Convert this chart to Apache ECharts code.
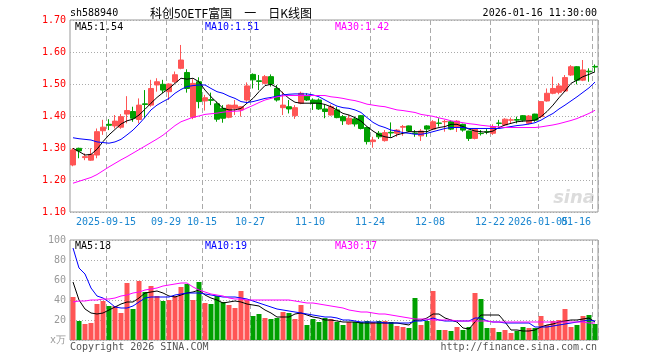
<!DOCTYPE html>
<html><head><meta charset="utf-8">
<script src="https://cdn.jsdelivr.net/npm/echarts@6/dist/echarts.min.js"></script>
<style>html,body{margin:0;padding:0;background:#fff}#c{width:660px;height:360px}</style>
</head><body><div id="c"></div>
<script>
var dates = ['2025-09-05','2025-09-08','2025-09-09','2025-09-10','2025-09-11','2025-09-12','2025-09-15','2025-09-16','2025-09-17','2025-09-18','2025-09-19','2025-09-22','2025-09-23','2025-09-24','2025-09-25','2025-09-26','2025-09-29','2025-09-30',
'2025-10-09','2025-10-10','2025-10-13','2025-10-14','2025-10-15','2025-10-16','2025-10-17','2025-10-20','2025-10-21','2025-10-22','2025-10-23','2025-10-24','2025-10-27','2025-10-28','2025-10-29','2025-10-30','2025-10-31',
'2025-11-03','2025-11-04','2025-11-05','2025-11-06','2025-11-07','2025-11-10','2025-11-11','2025-11-12','2025-11-13','2025-11-14','2025-11-17','2025-11-18','2025-11-19','2025-11-20','2025-11-21','2025-11-24','2025-11-25','2025-11-26','2025-11-27','2025-11-28',
'2025-12-01','2025-12-02','2025-12-03','2025-12-04','2025-12-05','2025-12-08','2025-12-09','2025-12-10','2025-12-11','2025-12-12','2025-12-15','2025-12-16','2025-12-17','2025-12-18','2025-12-19','2025-12-22','2025-12-23','2025-12-24','2025-12-25','2025-12-26','2025-12-29','2025-12-30','2025-12-31',
'2026-01-05','2026-01-06','2026-01-07','2026-01-08','2026-01-09','2026-01-12','2026-01-13','2026-01-14','2026-01-15','2026-01-16'];

var openP  = [1.247,1.299,1.270,1.262,1.278,1.354,1.374,1.369,1.365,1.406,1.414,1.389,1.438,1.434,1.497,1.499,1.476,1.507,1.549,1.536,1.396,1.507,1.447,1.451,1.438,1.424,1.396,1.424,1.419,1.450,
1.530,1.510,1.502,1.523,1.486,1.426,1.429,1.401,1.440,1.462,1.450,1.450,1.422,1.403,1.419,1.398,1.375,1.391,1.401,1.364,1.320,1.346,1.323,1.349,1.346,1.365,1.369,1.347,1.338,1.369,
1.359,1.378,1.382,1.382,1.364,1.374,1.353,1.330,1.346,1.351,1.346,1.378,1.372,1.387,1.389,1.401,1.377,1.406,1.398,1.447,1.471,1.474,1.478,1.528,1.554,1.512,1.540,1.555];
var closeP = [1.294,1.291,1.273,1.280,1.351,1.365,1.371,1.384,1.398,1.417,1.393,1.434,1.436,1.486,1.507,1.481,1.500,1.529,1.575,1.486,1.502,1.445,1.457,1.449,1.390,1.393,1.434,1.434,1.429,1.494,
1.513,1.508,1.523,1.500,1.450,1.434,1.422,1.426,1.471,1.450,1.440,1.422,1.414,1.429,1.395,1.385,1.393,1.375,1.361,1.320,1.325,1.335,1.348,1.347,1.356,1.367,1.353,1.345,1.353,1.359,
1.382,1.377,1.383,1.359,1.384,1.356,1.330,1.359,1.345,1.350,1.367,1.377,1.390,1.388,1.387,1.387,1.400,1.387,1.445,1.471,1.486,1.494,1.520,1.554,1.512,1.544,1.538,1.553];
var lowP   = [1.243,1.268,1.262,1.260,1.268,1.341,1.356,1.361,1.360,1.377,1.382,1.377,1.393,1.429,1.476,1.471,1.450,1.503,1.546,1.473,1.390,1.424,1.417,1.434,1.382,1.379,1.393,1.403,1.398,1.445,
1.486,1.481,1.499,1.492,1.445,1.403,1.408,1.391,1.437,1.447,1.419,1.419,1.393,1.401,1.393,1.372,1.372,1.367,1.358,1.311,1.301,1.328,1.320,1.335,1.335,1.338,1.350,1.335,1.322,1.335,
1.356,1.367,1.351,1.356,1.350,1.351,1.322,1.327,1.339,1.343,1.341,1.367,1.369,1.377,1.377,1.382,1.374,1.382,1.393,1.445,1.468,1.468,1.476,1.525,1.499,1.509,1.507,1.538];
var highP  = [1.300,1.301,1.283,1.299,1.361,1.388,1.390,1.403,1.406,1.462,1.429,1.455,1.481,1.513,1.518,1.513,1.502,1.539,1.622,1.546,1.515,1.521,1.466,1.473,1.445,1.434,1.436,1.450,1.431,1.505,
1.533,1.528,1.528,1.530,1.497,1.476,1.450,1.434,1.476,1.471,1.455,1.455,1.436,1.436,1.429,1.403,1.403,1.398,1.403,1.367,1.335,1.353,1.356,1.380,1.359,1.372,1.370,1.356,1.359,1.371,
1.387,1.393,1.388,1.387,1.387,1.376,1.354,1.360,1.356,1.359,1.374,1.388,1.393,1.395,1.398,1.403,1.403,1.407,1.446,1.486,1.523,1.503,1.528,1.559,1.556,1.575,1.549,1.561];

var ma5 = [1.299,1.289,1.278,1.280,1.296,1.320,1.341,1.358,1.375,1.385,1.390,1.403,1.421,1.440,1.458,1.473,1.486,1.502,1.518,1.515,1.518,1.507,1.481,1.460,1.442,1.424,1.419,1.419,1.424,1.440,
1.455,1.476,1.495,1.499,1.489,1.471,1.455,1.443,1.440,1.440,1.440,1.440,1.436,1.429,1.419,1.408,1.403,1.395,1.384,1.367,1.353,1.341,1.335,1.332,1.341,1.346,1.351,1.351,1.351,1.351,
1.359,1.364,1.367,1.374,1.374,1.367,1.359,1.353,1.351,1.349,1.353,1.364,1.372,1.377,1.382,1.384,1.385,1.387,1.398,1.414,1.434,1.457,1.478,1.502,1.512,1.523,1.530,1.538];
var ma10 = [1.332,1.329,1.327,1.325,1.319,1.317,1.315,1.319,1.327,1.341,1.356,1.375,1.396,1.419,1.434,1.445,1.455,1.471,1.483,1.492,1.495,1.497,1.497,1.486,1.476,1.471,1.462,1.455,1.445,1.442,
1.445,1.450,1.455,1.458,1.462,1.466,1.468,1.469,1.469,1.469,1.466,1.460,1.450,1.440,1.431,1.426,1.424,1.419,1.411,1.395,1.380,1.370,1.364,1.356,1.353,1.348,1.346,1.343,1.343,1.346,
1.351,1.356,1.361,1.364,1.364,1.364,1.361,1.361,1.361,1.361,1.361,1.361,1.364,1.367,1.370,1.372,1.375,1.379,1.387,1.398,1.408,1.422,1.434,1.447,1.460,1.474,1.488,1.506];
var ma30 = [1.190,1.196,1.202,1.208,1.217,1.229,1.241,1.252,1.263,1.273,1.284,1.295,1.306,1.317,1.328,1.340,1.355,1.370,1.382,1.389,1.396,1.400,1.405,1.407,1.409,1.412,1.414,1.415,1.416,1.425,
1.433,1.442,1.450,1.455,1.460,1.463,1.464,1.464,1.464,1.464,1.464,1.464,1.464,1.460,1.458,1.455,1.451,1.448,1.443,1.437,1.434,1.431,1.429,1.424,1.419,1.417,1.414,1.411,1.405,1.402,
1.399,1.394,1.390,1.385,1.382,1.379,1.376,1.374,1.371,1.369,1.367,1.366,1.364,1.364,1.364,1.364,1.364,1.364,1.366,1.369,1.372,1.376,1.381,1.386,1.392,1.400,1.408,1.418];

var volume = [43,19,16,17,36,39,34,34,27,57,31,59,48,54,44,39,40,44,53,56,40,58,37,36,44,38,35,32,49,40,
24,26,22,21,22,28,27,21,35,15,21,18,22,21,18,15,18,18,18,19,18,19,19,18,14,13,12,42,15,19,
49,10,10,9,13,10,13,47,41,12,12,8,10,7,9,13,12,12,24,15,19,20,31,13,15,24,25,16];
var vma5 = [58,40,31,27,26,27,30,33,36,38,38,42,47,48,49,47,44,43,45,47,48,50,45,42,40,37,38,39,38,36,
35,34,30,27,23,23,23,26,27,25,23,22,20,20,19,18,18,18,17,17,17,17,17,17,17,16,15,20,20,22,
26,26,22,20,18,12,11,18,25,25,25,25,18,10,10,9,9,10,13,15,16,18,19,20,20,21,22,18];
var vma10 = [92,72,66,52,44,42,38,33,32,32,34,38,42,43,43,43,43,45,46,47,47,47,46,45,44,43,43,43,42,41,
39,37,35,33,31,30,29,28,27,26,25,24,23,23,22,20,20,19,18,18,18,18,17,17,17,17,17,19,19,20,
22,20,19,19,19,19,19,22,22,19,18,18,17,17,17,17,17,13,13,13,14,15,16,17,18,19,20,19];
var vma30 = [38,39,39,40,40,41,41,42,44,45,47,48,50,51,52,54,55,56,57,57,53,50,48,46,45,44,42,41,41,40,
40,40,40,40,40,40,40,39,38,37,37,36,35,34,33,32,30,29,28,28,27,26,26,25,24,23,22,21,21,21,
20,20,20,20,19,19,19,19,19,19,18,18,18,18,18,18,18,18,18,18,18,18,18,18,18,18,17,17];

var labelIdx = [6,16,22,30,40,50,60,70,78,87];
var fullYearIdx = [6,78];
var priceTicks = {min:1.10, max:1.70, step:0.10};
var volTicks = {min:0, max:100, step:20};

var UP = '#ff5555', DOWN = '#00a000';
var MONO = '"DejaVu Sans Mono", "Liberation Mono", monospace';
var CJK = '"Noto Sans CJK SC", sans-serif';

var kdata = dates.map(function(d,i){ return [openP[i], closeP[i], lowP[i], highP[i]]; });
var showIdx = function(i){ return labelIdx.indexOf(i) >= 0; };
var last = dates.length - 1;
var fmtDate = function(v, i){ return fullYearIdx.indexOf(i) >= 0 ? v : v.slice(5); };

var chart = echarts.init(document.getElementById('c'), null, {renderer:'canvas'});
var vSplit = {show:true, interval:function(i){return showIdx(i);}, lineStyle:{color:'#aaaaaa', width:1, type:[5,3]}};
var hSplit = {show:true, lineStyle:{color:'#aaaaaa', width:1, type:[1,2]}};
var labelBase = {color:'#1a86d0', fontFamily:MONO, fontSize:10, margin:5, formatter:fmtDate};
function txt(x, y, s, color, font, align){
  return {type:'text', x:x, y:y, silent:true, style:{text:s, fill:color, font:font, align:align||'left', verticalAlign:'middle'}};
}
chart.setOption({
  animation:false,
  backgroundColor:'#fff',
  grid:[
    {left:70, top:20, width:528, height:192, show:true, borderColor:'#999999', borderWidth:1, backgroundColor:'transparent'},
    {left:70, top:240, width:528, height:100, show:true, borderColor:'#999999', borderWidth:1, backgroundColor:'transparent'}
  ],
  xAxis:[
    {type:'category', gridIndex:0, data:dates, boundaryGap:true, position:'bottom',
     axisLine:{show:false}, axisTick:{show:false},
     axisLabel:Object.assign({}, labelBase, {interval:function(i){return showIdx(i) && i !== last;}, padding:[0,6,0,0]}),
     splitLine:vSplit},
    {type:'category', gridIndex:1, data:dates, boundaryGap:true,
     axisLine:{show:false}, axisTick:{show:false}, axisLabel:{show:false},
     splitLine:vSplit},
    {type:'category', gridIndex:0, data:dates, boundaryGap:true, position:'bottom', offset:0,
     axisLine:{show:false}, axisTick:{show:false}, splitLine:{show:false},
     axisLabel:Object.assign({}, labelBase, {interval:function(i){return i === last;}, showMaxLabel:true, align:'right', padding:[0,4,0,0]})}
  ],
  yAxis:[
    {type:'value', gridIndex:0, min:priceTicks.min, max:priceTicks.max, interval:priceTicks.step, scale:true,
     axisLine:{show:false}, axisTick:{show:false},
     axisLabel:{color:'#ff0000', fontFamily:MONO, fontSize:10, margin:4, formatter:function(v){return v.toFixed(2);}},
     splitLine:hSplit},
    {type:'value', gridIndex:1, min:volTicks.min, max:volTicks.max, interval:volTicks.step,
     axisLine:{show:false}, axisTick:{show:false},
     axisLabel:{color:'#999999', fontFamily:MONO, fontSize:10, margin:4, formatter:function(v){return v === 0 ? 'x万' : String(v);}},
     splitLine:hSplit}
  ],
  series:[
    {type:'candlestick', xAxisIndex:0, yAxisIndex:0, data:kdata, barWidth:5, silent:true,
     itemStyle:{color:UP, color0:DOWN, borderColor:UP, borderColor0:DOWN, borderWidth:1}},
    {type:'line', xAxisIndex:0, yAxisIndex:0, data:ma5, symbol:'none', silent:true, lineStyle:{color:'#000000', width:1}},
    {type:'line', xAxisIndex:0, yAxisIndex:0, data:ma10, symbol:'none', silent:true, lineStyle:{color:'#0000ff', width:1}},
    {type:'line', xAxisIndex:0, yAxisIndex:0, data:ma30, symbol:'none', silent:true, lineStyle:{color:'#ff00ff', width:1}},
    {type:'bar', xAxisIndex:1, yAxisIndex:1, data:volume, barWidth:5, silent:true,
     itemStyle:{color:function(p){ return closeP[p.dataIndex] >= openP[p.dataIndex] ? UP : DOWN; }}},
    {type:'line', xAxisIndex:1, yAxisIndex:1, data:vma5, symbol:'none', silent:true, lineStyle:{color:'#000000', width:1}},
    {type:'line', xAxisIndex:1, yAxisIndex:1, data:vma10, symbol:'none', silent:true, lineStyle:{color:'#0000ff', width:1}},
    {type:'line', xAxisIndex:1, yAxisIndex:1, data:vma30, symbol:'none', silent:true, lineStyle:{color:'#ff00ff', width:1}}
  ],
  graphic:[
    txt(70, 13, 'sh588940', '#000', '10px ' + MONO),
    txt(150, 13, '科创50ETF富国\u3000一\u3000日K线图', '#000', '12px ' + CJK),
    txt(597, 13, '2026-01-16 11:30:00', '#000', '10px ' + MONO, 'right'),
    txt(75, 27, 'MA5:' + ma5[last].toFixed(2), '#000000', '10px ' + MONO),
    txt(205, 27, 'MA10:' + ma10[last].toFixed(2), '#0000ff', '10px ' + MONO),
    txt(335, 27, 'MA30:' + ma30[last].toFixed(2), '#ff00ff', '10px ' + MONO),
    txt(75, 246, 'MA5:' + vma5[last], '#000000', '10px ' + MONO),
    txt(205, 246, 'MA10:' + vma10[last], '#0000ff', '10px ' + MONO),
    txt(335, 246, 'MA30:' + vma30[last], '#ff00ff', '10px ' + MONO),
    txt(70, 347, 'Copyright 2026 SINA.COM', '#555555', '10px ' + MONO),
    txt(597, 347, 'http://finance.sina.com.cn', '#555555', '10px ' + MONO, 'right'),
    txt(595, 198, 'sina', '#dcdcdc', 'italic bold 18px "DejaVu Sans", sans-serif', 'right')
  ]
});
</script></body></html>
